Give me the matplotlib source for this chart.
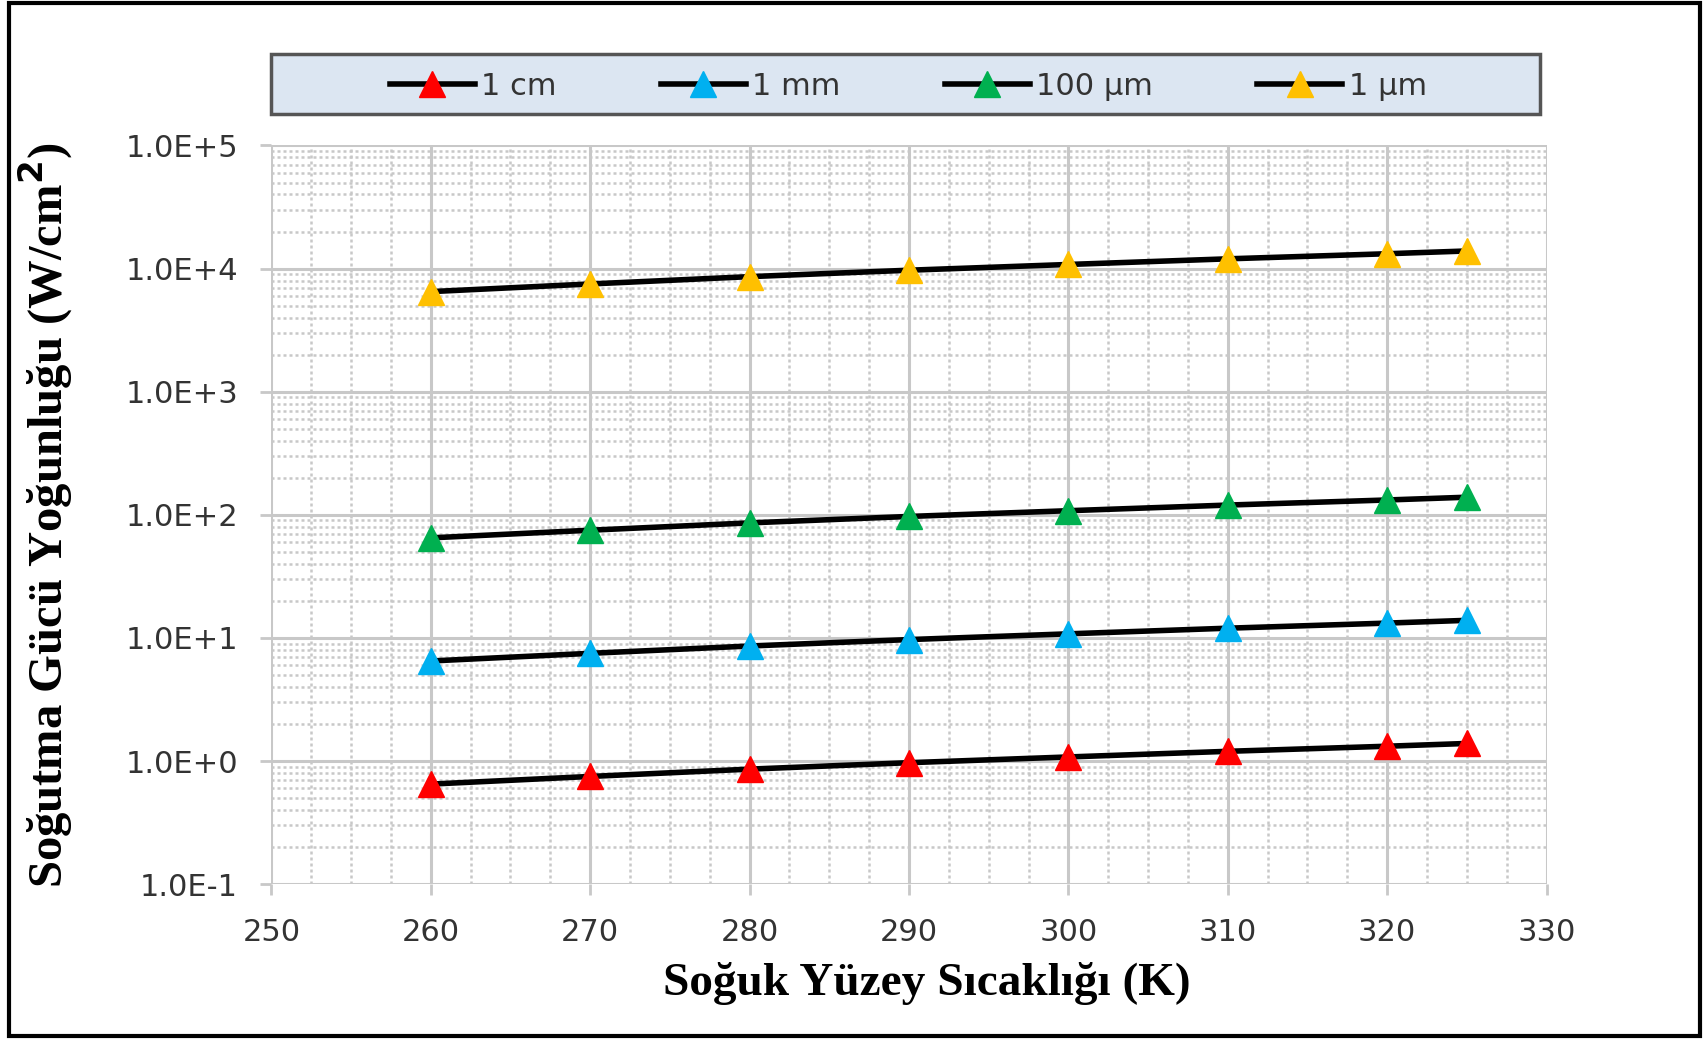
import numpy as np
import matplotlib.pyplot as plt
from matplotlib.ticker import LogLocator, MultipleLocator, NullFormatter
from matplotlib.patches import Rectangle

# Data
temps = [260, 270, 280, 290, 300, 310, 320, 325]
base = [0.65, 0.75, 0.86, 0.97, 1.08, 1.2, 1.32, 1.39]
labels = ['1 cm', '1 mm', '100 µm', '1 µm']
scales = [1, 10, 100, 10000]
colors = ['#ff0000', '#00b0f0', '#00b050', '#ffc000']

fig = plt.figure(figsize=(17.07, 10.39), dpi=100)
ax = fig.add_axes([0.159, 0.149, 0.747, 0.711])

for lab, s, c in zip(labels, scales, colors):
    ax.plot(temps, np.array(base) * s, color='black', lw=4, marker='^',
            markersize=19, markerfacecolor=c, markeredgecolor=c, label=lab, zorder=3)

ax.set_yscale('log')
ax.set_ylim(0.1, 1e5)
ax.set_xlim(250, 330)
ax.set_yticks([1e-1, 1e0, 1e1, 1e2, 1e3, 1e4, 1e5])
ax.set_yticklabels(['1.0E-1', '1.0E+0', '1.0E+1', '1.0E+2', '1.0E+3', '1.0E+4', '1.0E+5'])
ax.yaxis.set_minor_locator(LogLocator(base=10, subs=np.arange(2, 10)))
ax.yaxis.set_minor_formatter(NullFormatter())
ax.xaxis.set_major_locator(MultipleLocator(10))
ax.xaxis.set_minor_locator(MultipleLocator(2.5))

ax.grid(which='major', color='#c8c8c8', lw=2.2, ls='-')
ax.grid(which='minor', color='#c8c8c8', lw=1.8, ls=(0, (1.2, 1.2)))
for sp in ax.spines.values():
    sp.set_visible(False)
ax.tick_params(which='both', length=8, color='#c8c8c8', width=2, labelcolor='#333333',
               labelsize=22, pad=16)
ax.tick_params(which='minor', length=0)

ax.set_xlabel('Soğuk Yüzey Sıcaklığı (K)', family='Liberation Serif', fontweight='bold',
              fontsize=34, labelpad=12)
ax.xaxis.set_label_coords(0.514, -0.105)
ax.set_ylabel('Soğutma Gücü Yoğunluğu (W/cm$\\mathbf{^2}$)', family='Liberation Serif',
              fontweight='bold', fontsize=35, labelpad=36)

# legend box
fig.patches.append(Rectangle((0.159, 0.890), 0.743, 0.058, transform=fig.transFigure,
                             facecolor='#dce6f2', edgecolor='#555555', lw=2.5))
leg = fig.legend(loc='center', bbox_to_anchor=(0.532, 0.917), ncol=4, fontsize=22,
                 frameon=False, handlelength=2.8, handletextpad=0.2, columnspacing=3.4)
for t in leg.get_texts():
    t.set_color('#333333')

fig.patches.append(Rectangle((0.005, 0.003), 0.991, 0.994, transform=fig.transFigure,
                             fill=False, edgecolor='black', lw=3))

fig.savefig('out.png', dpi=100)
